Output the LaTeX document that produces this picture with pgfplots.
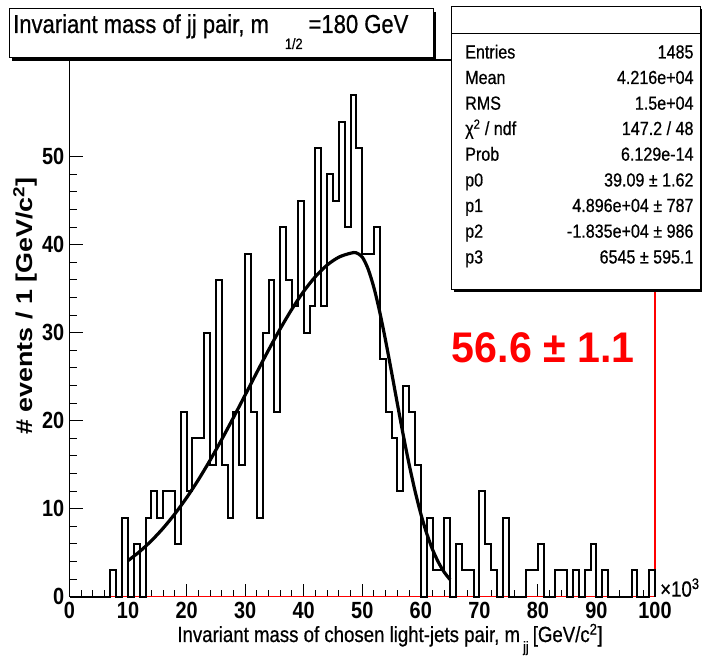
\documentclass[border=0pt]{standalone}
\usepackage{fontspec}
\setmainfont{Liberation Sans}[FakeStretch=0.85]
\newfontfamily\plainfont{Liberation Sans}
\newfontfamily\medfont{Liberation Sans}[FakeStretch=0.85,FakeBold=0.6]
\newfontfamily\redfont{Liberation Sans}[FakeStretch=0.96]
\usepackage{pgfplots}
\pgfplotsset{compat=1.18}
\usepackage{pgfplotstable}

\pgfplotstableread{
x y
0 0
1 0
2 0
3 0
4 0
5 0
6 0
7 3
8 0
9 9
10 0
11 6
12 0
13 9
14 12
15 9
16 12
17 12
18 6
19 21
20 12
21 18
22 18
23 30
24 15
25 36
26 15
27 9
28 21
29 15
30 39
31 21
32 9
33 30
34 36
35 21
36 42
37 36
38 33
39 45
40 30
41 33
42 51
43 33
44 48
45 45
46 54
47 42
48 57
49 51
50 39
51 39
52 42
53 27
54 21
55 18
56 12
57 24
58 21
59 15
60 0
61 9
62 3
63 3
64 9
65 0
66 6
67 3
68 3
69 0
70 12
71 6
72 3
73 0
74 9
75 0
76 0
77 0
78 3
79 3
80 6
81 0
82 0
83 3
84 3
85 0
86 3
87 0
88 3
89 6
90 0
91 3
92 0
93 0
94 0
95 0
96 3
97 0
98 0
99 3
100 3
100 0
}\histdata

\pgfplotstableread{
x y
10 4.10
12 5.14
14 6.37
16 7.79
18 9.42
20 11.25
22 13.28
24 15.50
26 17.87
28 20.36
30 22.92
32 25.50
34 28.04
36 30.46
38 32.70
40 34.70
42 36.38
44 37.69
46 38.59
48 39.04
48.96 39.09
50 38.60
51 37.24
52 35.10
53 32.31
54 29.06
55 25.54
56 21.92
57 18.38
58 15.06
59 12.05
60 9.42
61 7.20
62 5.37
63 3.92
64 2.79
65 1.94
}\fitdata

\newcommand{\statrow}[3]{%
  \node[anchor=base west,font=\medfont\fontsize{19}{19}\selectfont] at (461.7,#1) {#2};
  \node[anchor=base east,font=\medfont\fontsize{19}{19}\selectfont] at (697,#1) {#3};}

\begin{document}
\begin{tikzpicture}[x=1bp,y=1bp]
\path[use as bounding box] (0,0) rectangle (702,658);
\begin{axis}[
  at={(69.5bp,61.3bp)}, anchor=south west,
  scale only axis, width=585.5bp, height=536.7bp,
  xmin=0, xmax=100, ymin=0, ymax=61,
  tick pos=left, tick align=inside,
  xtick={0,10,...,100}, ytick={0,10,...,50},
  minor x tick num=4, minor y tick num=4,
  major tick length=13bp, minor tick length=7bp,
  every tick/.style={black, line width=1bp},
  /pgf/number format/assume math mode=true,
  ticklabel style={font=\fontsize{23.5}{24}\selectfont\bfseries},
  yticklabel style={inner xsep=5bp},
  xticklabel style={inner ysep=5bp},
  axis line style={line width=1.2bp},
  clip=false,
]
\draw[red, line width=1.3bp] (rel axis cs:0,0) -- (rel axis cs:1,0) -- (rel axis cs:1,1);
\addplot[const plot, black, line width=2bp] table[x=x,y=y] {\histdata};
\addplot[smooth, black, line width=3.2bp] table[x=x,y=y] {\fitdata};
\end{axis}

% x10^3
\node[anchor=south west, inner sep=0, font=\medfont\fontsize{22}{22}\selectfont] at (660,61) {×10\textsuperscript{3}};

% axis titles
\node[rotate=90, inner sep=0] at (25,352) {\scalebox{1}[0.85]{\plainfont\fontsize{27}{27}\selectfont\bfseries \# events / 1 [GeV/c\textsuperscript{2}]}};
\node[anchor=base, inner sep=0, font=\medfont\fontsize{22}{22}\selectfont] at (390,16)
  {Invariant mass of chosen light-jets pair, m\hspace{3bp}\raisebox{-10bp}{\fontsize{15}{15}\selectfont jj}\hspace{4bp}[GeV/c\textsuperscript{2}]};

% red result
\node[anchor=base west, inner sep=0, text=red, font=\redfont\fontsize{43}{43}\selectfont\bfseries] at (451.7,295.3) {56.6 ± 1.1};

% title box
\fill[black] (12,597) rectangle (436,646);
\draw[fill=white, line width=1bp] (9,600) rectangle (433,649);
\node[anchor=base west, inner sep=0, font=\medfont\fontsize{26}{26}\selectfont] at (13,625)
  {Invariant mass of jj pair, m\hspace{16bp}\raisebox{-16bp}{\fontsize{15}{15}\selectfont 1/2}\hspace{6bp}=180 GeV};

% stats box
\fill[black] (453.7,366) rectangle (702,649.3);
\draw[fill=white, line width=1bp] (451.7,368) rectangle (700,651.3);
\draw[line width=1bp] (451.7,624.7) -- (700,624.7);
\statrow{599.5}{Entries}{1485}
\statrow{574}{Mean}{4.216e+04}
\statrow{548.3}{RMS}{1.5e+04}
\statrow{523}{χ\textsuperscript{2} / ndf}{147.2 / 48}
\statrow{497.3}{Prob}{6.129e-14}
\statrow{471.5}{p0}{39.09 ± 1.62}
\statrow{446}{p1}{4.896e+04 ± 787}
\statrow{420.3}{p2}{-1.835e+04 ± 986}
\statrow{394.5}{p3}{6545 ± 595.1}
\end{tikzpicture}
\end{document}
